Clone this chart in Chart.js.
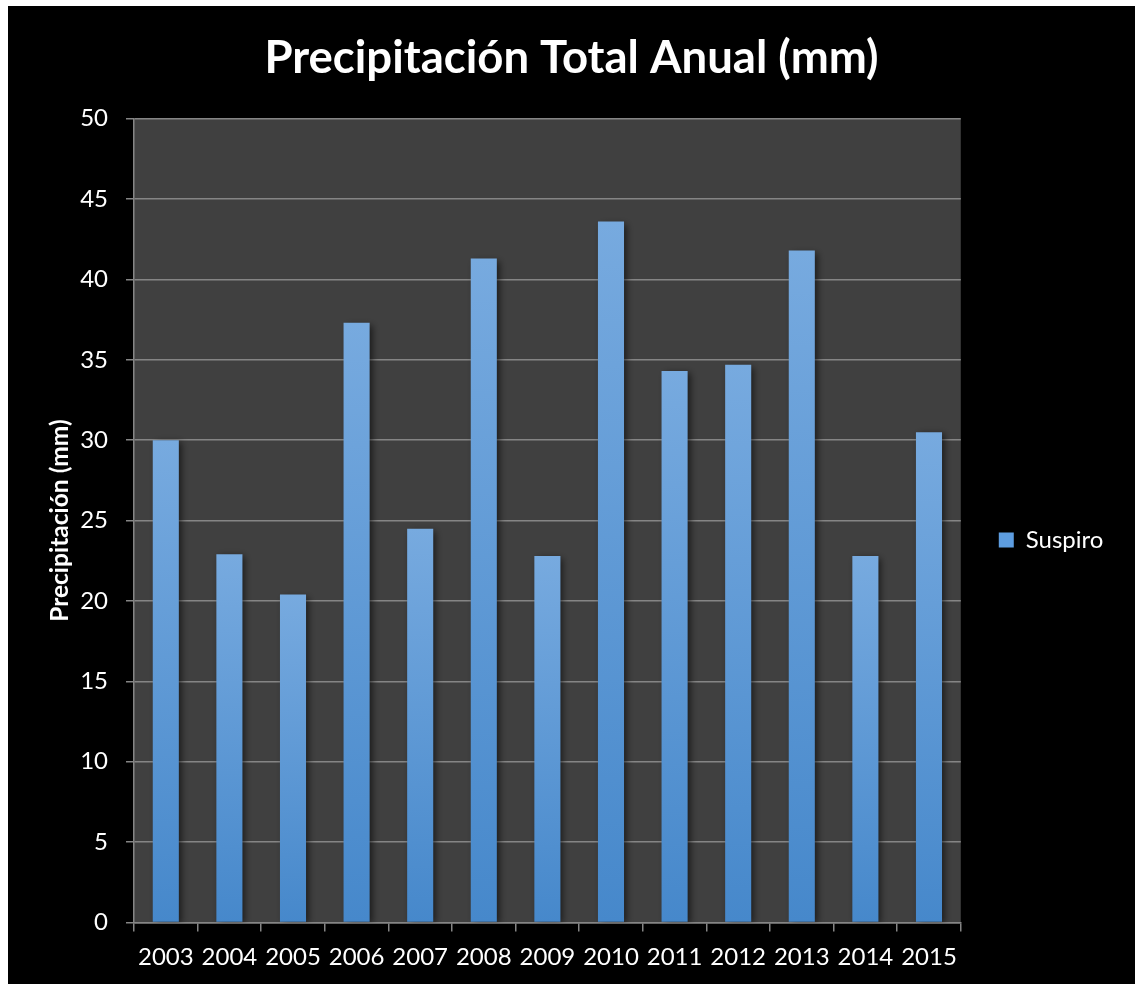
<!DOCTYPE html>
<html>
<head>
<meta charset="utf-8">
<script src="https://cdn.jsdelivr.net/npm/chart.js@4/dist/chart.umd.min.js"></script>
<style>
  html, body { margin: 0; padding: 0; background: #ffffff; }
  #frame { position: absolute; left: 8px; top: 6px; width: 1127px; height: 978px; background: #000000; }
  canvas { display: block; }
</style>
</head>
<body>
<div id="frame"><canvas id="chart" width="1127" height="978"></canvas></div>
<script>
// Annual precipitation, station "Suspiro"
const years = ['2003', '2004', '2005', '2006', '2007', '2008', '2009', '2010', '2011', '2012', '2013', '2014', '2015'];
const suspiro = [30.0, 22.9, 20.4, 37.3, 24.5, 41.3, 22.8, 43.6, 34.3, 34.7, 41.8, 22.8, 30.5];
const yTicks = { min: 0, max: 50, step: 5 };

const FONT = 'Lato, "Open Sans", sans-serif';
const GRID = '#858585';
const SIDE = 21.6;

// dark plot area behind the bars
const plotBackground = {
  id: 'plotBackground',
  beforeDraw(chart) {
    const { ctx, chartArea: a } = chart;
    ctx.save();
    ctx.fillStyle = '#404040';
    ctx.fillRect(a.left, a.top, a.right - a.left, a.bottom - a.top);
    ctx.restore();
  }
};

// soft drop shadow under each bar
const barShadow = {
  id: 'barShadow',
  beforeDatasetsDraw(chart) {
    const c = chart.ctx;
    c.save();
    c.shadowColor = 'rgba(0,0,0,0.6)';
    c.shadowBlur = 7;
    c.shadowOffsetX = 3;
    c.shadowOffsetY = 2;
  },
  afterDatasetsDraw(chart) {
    chart.ctx.restore();
  }
};

// vertical gradient per bar, lighter at the top
function barFill(ctx) {
  const chart = ctx.chart;
  if (ctx.dataIndex === undefined || !chart.chartArea || !chart.scales.y) return '#5b9bd5';
  const y = chart.scales.y;
  const top = y.getPixelForValue(ctx.raw);
  const base = y.getPixelForValue(0);
  const g = chart.ctx.createLinearGradient(0, top, 0, base);
  g.addColorStop(0, '#77aadf');
  g.addColorStop(1, '#4688cb');
  return g;
}

new Chart(document.getElementById('chart'), {
  type: 'bar',
  data: {
    labels: years,
    datasets: [{
      label: 'Suspiro',
      data: suspiro,
      backgroundColor: barFill,
      borderWidth: 0,
      barPercentage: 0.41,
      categoryPercentage: 1.0
    }]
  },
  options: {
    responsive: false,
    animation: false,
    devicePixelRatio: 1,
    layout: { padding: { left: SIDE, right: SIDE, top: 0, bottom: 0 } },
    plugins: {
      title: {
        display: true,
        text: 'Precipitación Total Anual (mm)',
        color: '#ffffff',
        font: { family: FONT, size: 45.5, weight: 'bold', lineHeight: 1.2 },
        padding: { top: 24.7, bottom: 33.4 }
      },
      legend: {
        position: 'right',
        fullSize: false,
        title: { display: true, text: ' ', font: { size: 10, lineHeight: 1.2 }, padding: { top: 13.5, bottom: 13.5 } },
        labels: {
          color: '#ffffff',
          font: { family: FONT, size: 24 },
          boxWidth: 15,
          boxHeight: 15,
          padding: 38,
          generateLabels(chart) {
            return [{
              text: 'Suspiro',
              fillStyle: '#5d9de0',
              strokeStyle: '#5d9de0',
              lineWidth: 0,
              fontColor: '#ffffff',
              datasetIndex: 0,
              hidden: false
            }];
          }
        }
      },
      tooltip: { enabled: false }
    },
    scales: {
      x: {
        offset: true,
        afterFit(scale) { scale.height = 61.5; },
        grid: {
          offset: true,
          drawOnChartArea: false,
          drawTicks: true,
          tickLength: 9,
          color: GRID,
          lineWidth: 1.5
        },
        border: { display: true, color: GRID, width: 1.5 },
        ticks: { color: '#ffffff', font: { family: FONT, size: 24 }, padding: 11, maxRotation: 0 }
      },
      y: {
        min: yTicks.min,
        max: yTicks.max,
        afterFit(scale) { scale.width = 126 - SIDE; },
        grid: { color: GRID, lineWidth: 1.5, tickLength: 8, drawTicks: true },
        border: { display: true, color: GRID, width: 1.5 },
        ticks: { stepSize: yTicks.step, color: '#ffffff', font: { family: FONT, size: 24 }, padding: 18 },
        title: {
          display: true,
          text: 'Precipitación (mm)',
          color: '#ffffff',
          font: { family: FONT, size: 24.5, weight: 'bold', lineHeight: 1.2 },
          padding: { top: 15.7, bottom: 0 }
        }
      }
    }
  },
  plugins: [plotBackground, barShadow]
});
</script>
</body>
</html>
